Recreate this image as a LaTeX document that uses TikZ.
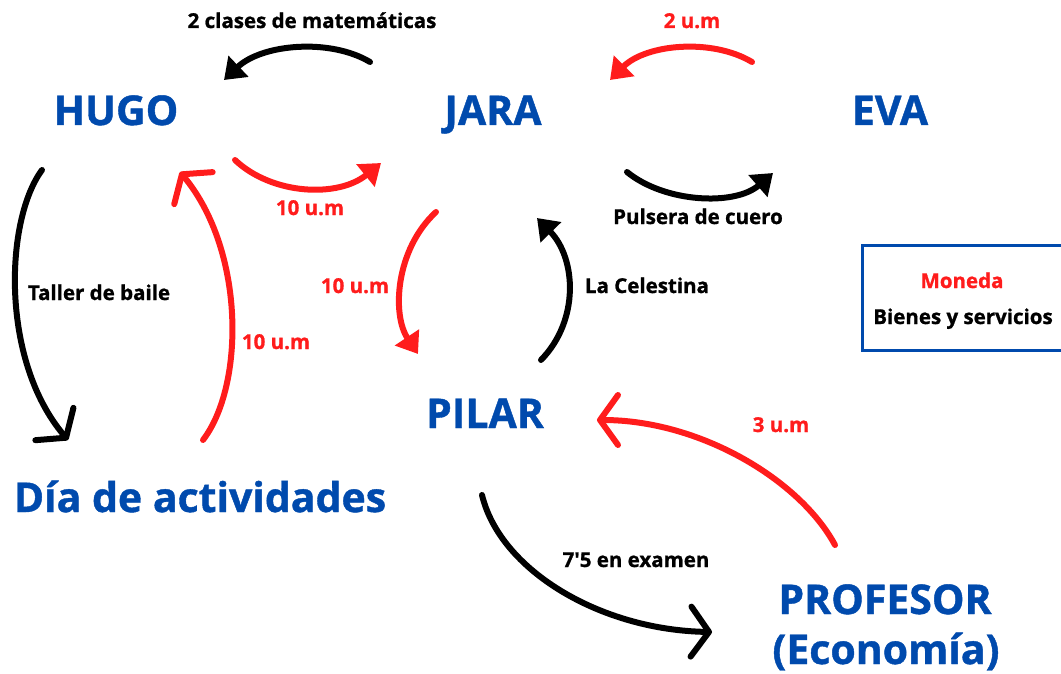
\documentclass[tikz,border=0pt]{standalone}
\usepackage{fontspec}
\setmainfont{Open Sans}[BoldFeatures={FakeBold=1}]
\usetikzlibrary{arrows.meta}
\definecolor{nblue}{RGB}{0,74,173}
\definecolor{nred}{RGB}{255,28,28}
\begin{document}
\begin{tikzpicture}[x=1pt,y=-1pt,
  who/.style={font=\bfseries\fontsize{41}{45}\selectfont, text=nblue, inner sep=0pt, anchor=base},
  lbl/.style={font=\bfseries\fontsize{20.5}{22}\selectfont, inner sep=0pt, anchor=base},
  money/.style={lbl, text=nred},
  flow/.style={line width=6pt, line cap=round},
  tri/.style={-{Triangle[length=20pt,width=28pt]}},
  chev/.style={-{Straight Barb[length=18pt,width=50pt,round]}}]
\useasboundingbox (0,0) rectangle (1061,674);
\fill[white] (0,0) rectangle (1061,674);

% actors
\node[who] (hugo)  at (116,125) {HUGO};
\node[who] (jara)  at (493,125) {JARA};
\node[who] (eva)   at (890,125) {EVA};
\node[who] (pilar) at (485,428) {PILAR};
\node[who] (dia)   at (200,512) {Día de actividades};
\node[who] (prof)  at (885,614) {PROFESOR};
\node[who] (econ)  at (886,664) {(Economía)};

% legend
\draw[nblue, line width=3pt] (862,245) rectangle (1068,350);
\node[money] (leg1) at (962,288) {Moneda};
\node[lbl]   (leg2) at (963,324) {Bienes y servicios};

% labels
\node[lbl]   (l1)  at (312,28)  {2 clases de matemáticas};
\node[money] (l2)  at (692,28)  {2 u.m};
\node[money] (l3)  at (310,215) {10 u.m};
\node[lbl]   (l4)  at (698,224) {Pulsera de cuero};
\node[money] (l5)  at (355,293) {10 u.m};
\node[lbl]   (l6)  at (647,293) {La Celestina};
\node[lbl]   (l7)  at (99,300)  {Taller de baile};
\node[money] (l8)  at (276,349) {10 u.m};
\node[money] (l9)  at (781,432) {3 u.m};
\node[lbl]   (l10) at (636,567) {7\textquotesingle 5 en examen};

% arrow end points
\coordinate (a1s) at (370,62);  \coordinate (a1e) at (224,80);
\coordinate (a2s) at (752,62);  \coordinate (a2e) at (610,80);
\coordinate (a3s) at (235,160); \coordinate (a3e) at (381,163);
\coordinate (a4s) at (627,172); \coordinate (a4e) at (773,173);
\coordinate (a5s) at (436,212); \coordinate (a5e) at (418,354);
\coordinate (a6s) at (541,360); \coordinate (a6e) at (537,218);
\coordinate (a7s) at (42,170);  \coordinate (a7e) at (68,440);
\coordinate (a8s) at (203,440); \coordinate (a8e) at (180,172);
\coordinate (a9s) at (835,545); \coordinate (a9e) at (597,420);
\coordinate (a10s) at (482,495); \coordinate (a10e) at (712,632);

% connectors
\draw[flow, tri] (a1s) .. controls (330,38) and (262,44) .. (a1e);
\draw[flow, tri, nred] (a2s) .. controls (712,38) and (646,44) .. (a2e);
\draw[flow, tri, nred] (a3s) .. controls (272,195) and (338,198) .. (a3e);
\draw[flow, tri] (a4s) .. controls (665,203) and (735,206) .. (a4e);
\draw[flow, tri, nred] (a5s) .. controls (395,250) and (392,315) .. (a5e);
\draw[flow, tri] (a6s) .. controls (580,320) and (576,258) .. (a6e);
\draw[flow, chev] (a7s) .. controls (5,220) and (0,360) .. (a7e);
\draw[flow, chev, nred] (a8s) .. controls (245,385) and (245,250) .. (a8e);
\draw[flow, chev, nred] (a9s) .. controls (800,480) and (700,420) .. (a9e);
\draw[flow, chev] (a10s) .. controls (500,570) and (600,630) .. (a10e);
\end{tikzpicture}
\end{document}
